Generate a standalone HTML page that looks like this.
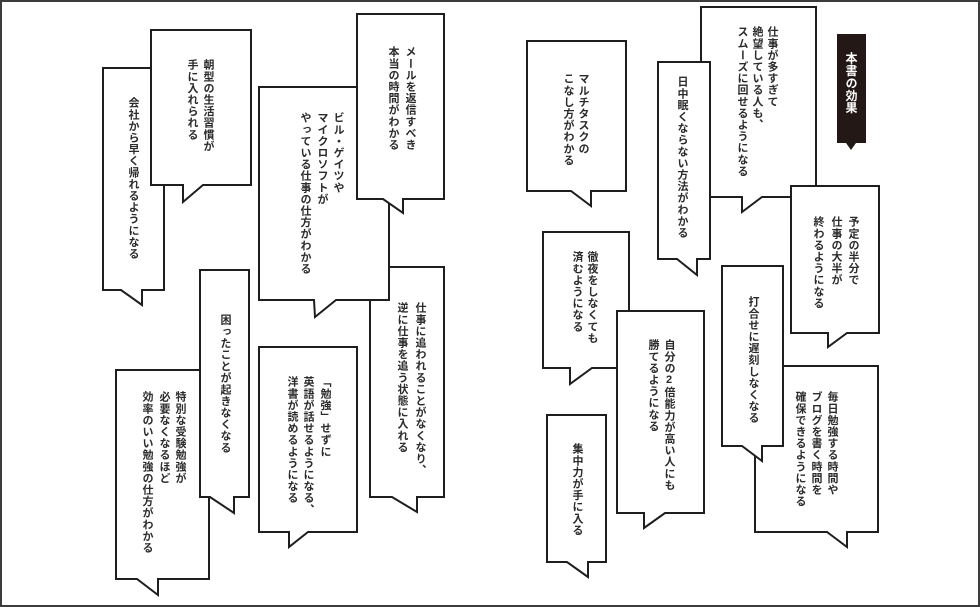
<!DOCTYPE html>
<html><head><meta charset="utf-8">
<style>
html,body{margin:0;padding:0;background:#fff;}
#wrap{position:relative;width:980px;height:607px;overflow:hidden;background:#fff;}
#frame{position:absolute;left:0;top:0;width:980px;height:607px;box-sizing:border-box;border:2px solid #3c3c3c;}
svg{position:absolute;left:0;top:0;}
.c{position:absolute;writing-mode:vertical-rl;text-orientation:upright;width:14px;line-height:14px;font-family:"Liberation Sans","Noto Sans CJK JP",sans-serif;font-size:11px;letter-spacing:0.6px;font-weight:bold;color:#2b2b2b;white-space:nowrap;}
.w{color:#fff;font-size:12px;letter-spacing:0.4px;}
</style></head><body>
<div id="wrap">
<svg width="980" height="607" viewBox="0 0 980 607">
<g fill="#fff" stroke="#1e1e1e" stroke-width="2" stroke-linejoin="miter">
<!-- left page -->
<polygon points="103,68 164,68 164,290 142,290 142,305 121,290 103,290"/>
<polygon points="151,30 251,30 251,185 203,185 183,202 183,185 151,185"/>
<polygon points="370,267 444,267 444,497 417,497 417,512 392,497 370,497"/>
<polygon points="259,87 389,87 389,300 336,300 315,317 314,300 259,300"/>
<polygon points="357,14 444,14 444,199 403,199 403,213 383,199 357,199"/>
<polygon points="116,370 209,370 209,579 158,579 158,595 137,579 116,579"/>
<polygon points="200,270 249,270 249,497 234,497 234,513 210,497 200,497"/>
<polygon points="259,347 357,347 357,532 308,532 289,547 289,532 259,532"/>
<!-- right page -->
<polygon points="527,41 626,41 626,191 591,191 591,206 571,191 527,191"/>
<polygon points="701,7 816,7 816,197 762,197 742,212 742,197 701,197"/>
<polygon points="658,62 710,62 710,259 697,259 697,275 677,259 658,259"/>
<polygon points="791,186 879,186 879,333 847,333 828,347 828,333 791,333"/>
<polygon points="543,232 629,232 629,368 592,368 570,384 570,368 543,368"/>
<polygon points="617,311 704,311 704,513 665,513 644,528 644,513 617,513"/>
<polygon points="547,415 606,415 606,562 588,562 588,577 567,562 547,562"/>
<polygon points="755,366 878,366 878,532 847,532 847,547 827,532 755,532"/>
<polygon points="722,266 783,266 783,446 762,446 762,461 742,446 722,446"/>
</g>
<polygon points="837,34 866,34 866,143 856,143 851,150 846,143 837,143" fill="#231815"/>
</svg>

<!-- A -->
<div class="c" style="left:126px;top:97px">会社から早く帰れるようになる</div>
<!-- B -->
<div class="c" style="left:201px;top:59px">朝型の生活習慣が</div>
<div class="c" style="left:185px;top:59px">手に入れられる</div>
<!-- C -->
<div class="c" style="left:331px;top:112px">ビル・ゲイツや</div>
<div class="c" style="left:315px;top:112px">マイクロソフトが</div>
<div class="c" style="left:298px;top:112px">やっている仕事の仕方がわかる</div>
<!-- D -->
<div class="c" style="left:403px;top:46px">メールを返信すべき</div>
<div class="c" style="left:386px;top:46px">本当の時間がわかる</div>
<!-- E -->
<div class="c" style="left:413px;top:302px">仕事に追われることがなくなり、</div>
<div class="c" style="left:395px;top:302px">逆に仕事を追う状態に入れる</div>
<!-- F -->
<div class="c" style="left:218px;top:314px">困ったことが起きなくなる</div>
<!-- G -->
<div class="c" style="left:173px;top:391px">特別な受験勉強が</div>
<div class="c" style="left:157px;top:391px">必要なくなるほど</div>
<div class="c" style="left:140px;top:391px">効率のいい勉強の仕方がわかる</div>
<!-- H -->
<div class="c" style="left:318px;top:376px">「勉強」せずに</div>
<div class="c" style="left:301px;top:376px">英語が話せるようになる、</div>
<div class="c" style="left:285px;top:376px">洋書が読めるようになる</div>
<!-- I -->
<div class="c" style="left:576px;top:73px">マルチタスクの</div>
<div class="c" style="left:561px;top:73px">こなし方がわかる</div>
<!-- J -->
<div class="c" style="left:765px;top:26px">仕事が多すぎて</div>
<div class="c" style="left:750px;top:26px">絶望している人も、</div>
<div class="c" style="left:735px;top:26px">スムーズに回せるようになる</div>
<!-- K -->
<div class="c" style="left:675px;top:76px">日中眠くならない方法がわかる</div>
<!-- L -->
<div class="c" style="left:846px;top:216px">予定の半分で</div>
<div class="c" style="left:829px;top:216px">仕事の大半が</div>
<div class="c" style="left:811px;top:216px">終わるようになる</div>
<!-- M -->
<div class="c" style="left:585px;top:251px">徹夜をしなくても</div>
<div class="c" style="left:570px;top:251px">済むようになる</div>
<!-- O -->
<div class="c" style="left:662px;top:339px">自分の2倍能力が高い人にも</div>
<div class="c" style="left:646px;top:339px">勝てるようになる</div>
<!-- P -->
<div class="c" style="left:570px;top:443px">集中力が手に入る</div>
<!-- N -->
<div class="c" style="left:746px;top:296px">打合せに遅刻しなくなる</div>
<!-- Q -->
<div class="c" style="left:825px;top:391px">毎日勉強する時間や</div>
<div class="c" style="left:809px;top:391px">ブログを書く時間を</div>
<div class="c" style="left:793px;top:391px">確保できるようになる</div>
<!-- label -->
<div class="c w" style="left:844px;top:52px">本書の効果</div>

<div id="frame"></div>
</div>
</body></html>
